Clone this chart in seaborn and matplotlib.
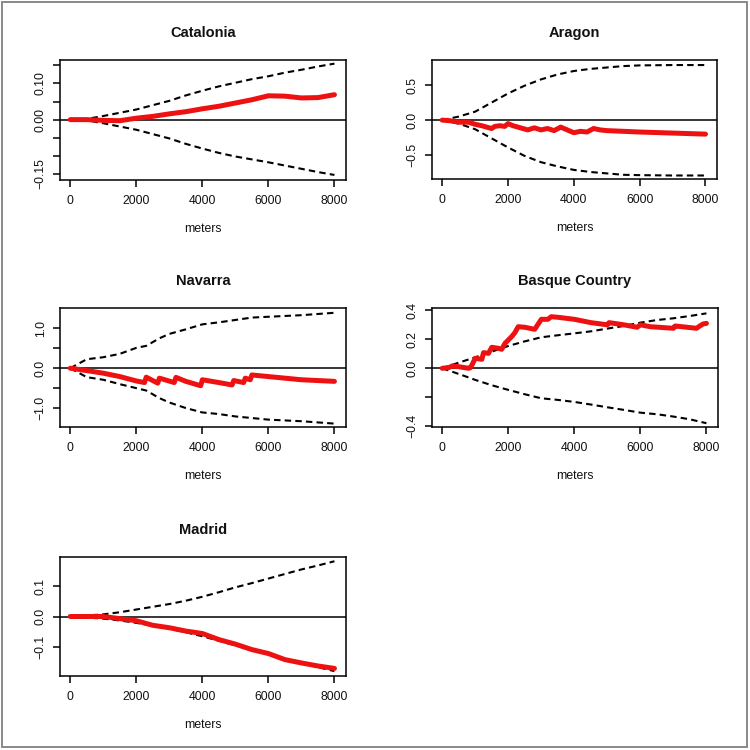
import numpy as np
import pandas as pd
import matplotlib
matplotlib.use("Agg")
import matplotlib.pyplot as plt
from matplotlib.patches import Rectangle
import seaborn as sns

# ---- data ----
# Catalonia
cat_x = [0, 500, 1000, 1500, 2000, 2500, 3000, 3500, 4000, 4500, 5000, 5500, 6000, 6500, 7000, 7500, 8000]
cat_obs = [0.0, 0.0, -0.002, -0.003, 0.004, 0.009, 0.016, 0.022, 0.03, 0.037, 0.046, 0.055, 0.066, 0.065, 0.06, 0.061, 0.069]
cat_upper = [0.0, 0.002, 0.01, 0.019, 0.028, 0.04, 0.052, 0.067, 0.08, 0.092, 0.102, 0.112, 0.12, 0.13, 0.138, 0.147, 0.155]
cat_lower = [0.0, -0.002, -0.01, -0.019, -0.028, -0.04, -0.052, -0.067, -0.08, -0.092, -0.102, -0.11, -0.118, -0.127, -0.136, -0.145, -0.153]

# Aragon
ara_env_x = [0, 500, 1000, 1500, 2000, 2500, 3000, 3500, 4000, 4500, 5000, 5500, 6000, 7000, 8000]
ara_upper = [0.0, 0.05, 0.12, 0.25, 0.38, 0.49, 0.58, 0.65, 0.70, 0.73, 0.75, 0.77, 0.78, 0.785, 0.785]
ara_lower = [0.0, -0.05, -0.13, -0.26, -0.39, -0.51, -0.60, -0.66, -0.71, -0.74, -0.76, -0.78, -0.785, -0.79, -0.79]
ara_obs_x = [0, 250, 500, 800, 1000, 1200, 1500, 1600, 1750, 1900, 2000, 2150, 2300, 2600, 2800, 3000,
             3200, 3400, 3600, 3800, 4000, 4200, 4400, 4600, 4800, 5000, 5500, 6000, 7000, 8000]
ara_obs = [0.0, -0.01, -0.03, -0.03, -0.06, -0.08, -0.12, -0.09, -0.08, -0.09, -0.05, -0.08, -0.10, -0.14, -0.11, -0.14,
           -0.12, -0.15, -0.10, -0.14, -0.18, -0.16, -0.17, -0.12, -0.14, -0.15, -0.16, -0.17, -0.185, -0.20]

# Navarra
nav_env_x = [0, 500, 1000, 1500, 2000, 2300, 2700, 3000, 3500, 4000, 4500, 5000, 5500, 6000, 7000, 8000]
nav_upper = [0.0, 0.225, 0.275, 0.36, 0.51, 0.56, 0.75, 0.86, 0.975, 1.1, 1.15, 1.21, 1.27, 1.29, 1.33, 1.39]
nav_lower = [0.0, -0.225, -0.29, -0.40, -0.50, -0.56, -0.75, -0.86, -1.0, -1.11, -1.15, -1.21, -1.25, -1.29, -1.33, -1.39]
nav_obs_x = [0, 500, 1000, 1500, 2000, 2250, 2300, 2650, 2700, 3150, 3200, 3500, 3950, 4000, 4500, 4900,
             4950, 5250, 5300, 5450, 5500, 6000, 6500, 7000, 7500, 8000]
nav_obs = [0.0, -0.06, -0.125, -0.21, -0.32, -0.36, -0.225, -0.375, -0.25, -0.36, -0.23, -0.33, -0.44, -0.29, -0.36, -0.42,
           -0.31, -0.36, -0.25, -0.29, -0.17, -0.21, -0.25, -0.29, -0.31, -0.33]

# Basque Country
bas_env_x = [0, 500, 1000, 1500, 2000, 2500, 3000, 3500, 4000, 4500, 5000, 5500, 6000, 6500, 7000, 7500, 8000]
bas_upper = [0.0, 0.039, 0.076, 0.115, 0.154, 0.186, 0.214, 0.228, 0.241, 0.255, 0.274, 0.292, 0.315, 0.333, 0.345, 0.361, 0.379]
bas_lower = [0.0, -0.039, -0.08, -0.117, -0.149, -0.179, -0.207, -0.218, -0.232, -0.25, -0.269, -0.287, -0.306, -0.317, -0.333, -0.352, -0.379]
bas_obs_x = [0, 200, 300, 500, 800, 850, 900, 1000, 1200, 1250, 1400, 1500, 1700, 1800, 1900, 2100, 2200, 2300,
             2500, 2800, 3000, 3200, 3300, 3500, 4000, 4500, 5000, 5050, 5500, 5900, 6000, 6300, 7000, 7050,
             7700, 7800, 7900, 8000]
bas_obs = [0.0, 0.005, 0.016, 0.011, 0.0, 0.004, 0.023, 0.069, 0.062, 0.108, 0.103, 0.145, 0.138, 0.131, 0.172, 0.218, 0.246, 0.287,
           0.283, 0.269, 0.338, 0.338, 0.356, 0.352, 0.338, 0.315, 0.30, 0.315, 0.30, 0.283, 0.30, 0.287, 0.276, 0.292,
           0.276, 0.292, 0.306, 0.31]

# Madrid
mad_x = [0, 1000, 1500, 2000, 2500, 3000, 3500, 4000, 4500, 5000, 5500, 6000, 6500, 7000, 7500, 8000]
mad_obs = [0.0, 0.0, -0.007, -0.014, -0.029, -0.037, -0.048, -0.056, -0.076, -0.091, -0.109, -0.122, -0.142, -0.153, -0.163, -0.171]
mad_upper = [0.0, 0.007, 0.014, 0.023, 0.032, 0.041, 0.052, 0.065, 0.08, 0.096, 0.11, 0.125, 0.14, 0.155, 0.168, 0.182]
mad_lower = [0.0, -0.007, -0.013, -0.021, -0.03, -0.04, -0.052, -0.065, -0.08, -0.095, -0.11, -0.124, -0.139, -0.153, -0.167, -0.18]

# axis ticks / labels
x_ticks = [0, 2000, 4000, 6000, 8000]
cat_yticks = [-0.15, -0.10, -0.05, 0.0, 0.05, 0.10, 0.15]
cat_ylabels = ["\u22120.15", "", "", "0.00", "", "0.10", ""]
ara_yticks = [-0.5, 0.0, 0.5]
ara_ylabels = ["\u22120.5", "0.0", "0.5"]
nav_yticks = [-1.0, -0.5, 0.0, 0.5, 1.0]
nav_ylabels = ["\u22121.0", "", "0.0", "", "1.0"]
bas_yticks = [-0.4, -0.2, 0.0, 0.2, 0.4]
bas_ylabels = ["\u22120.4", "", "0.0", "0.2", "0.4"]
mad_yticks = [-0.1, 0.0, 0.1]
mad_ylabels = ["\u22120.1", "0.0", "0.1"]

# ---- style ----
sns.set_theme(style="ticks")
plt.rcParams["font.family"] = ["Liberation Sans", "DejaVu Sans"]

W = 750.0
fig = plt.figure(figsize=(7.5, 7.5), dpi=100)
fig.patch.set_facecolor("white")


def px_axes(x0, y0, x1, y1):
    return fig.add_axes([x0 / W, 1 - y1 / W, (x1 - x0) / W, (y1 - y0) / W])


panels = [
    ("Catalonia", (60, 60, 346, 180), cat_x, cat_obs, cat_x, cat_upper, cat_lower,
     (-0.167, 0.165), cat_yticks, cat_ylabels),
    ("Aragon", (432, 60, 717, 179), ara_obs_x, ara_obs, ara_env_x, ara_upper, ara_lower,
     (-0.84, 0.857), ara_yticks, ara_ylabels),
    ("Navarra", (60, 308, 346, 427), nav_obs_x, nav_obs, nav_env_x, nav_upper, nav_lower,
     (-1.475, 1.51), nav_yticks, nav_ylabels),
    ("Basque Country", (432, 308, 718, 427), bas_obs_x, bas_obs, bas_env_x, bas_upper, bas_lower,
     (-0.405, 0.416), bas_yticks, bas_ylabels),
    ("Madrid", (60, 557, 346, 676), mad_x, mad_obs, mad_x, mad_upper, mad_lower,
     (-0.196, 0.196), mad_yticks, mad_ylabels),
]

dash = (0, (3.1, 2.0))

for name, box, ox, oy, ex, eu, el, ylim, yt, yl in panels:
    ax = px_axes(*box)
    env = pd.DataFrame({"meters": list(ex) * 2,
                        "value": list(eu) + list(el),
                        "bound": ["upper"] * len(ex) + ["lower"] * len(ex)})
    obs = pd.DataFrame({"meters": ox, "value": oy})

    ax.axhline(0, color="black", lw=1.1, zorder=1)
    for b in ["upper", "lower"]:
        sns.lineplot(data=env[env["bound"] == b], x="meters", y="value", ax=ax,
                     color="black", lw=1.5, linestyle=dash, estimator=None, sort=False,
                     zorder=2)
    sns.lineplot(data=obs, x="meters", y="value", ax=ax, color="#ee1111", lw=3.6,
                 estimator=None, sort=False, zorder=3, solid_capstyle="round",
                 solid_joinstyle="round")

    ax.set_xlim(-310, 8350)
    ax.set_ylim(*ylim)
    ax.set_xticks(x_ticks)
    ax.set_xticklabels([str(t) for t in x_ticks])
    ax.set_yticks(yt)
    ax.set_yticklabels(yl, rotation=90, va="center")
    ax.set_xlabel("")
    ax.set_ylabel("")
    ax.tick_params(axis="both", direction="out", length=5, width=1.1, color="black",
                   labelsize=8.8, labelcolor="#111111")
    ax.tick_params(axis="x", pad=6.0)
    ax.tick_params(axis="y", pad=4.5)
    for s in ax.spines.values():
        s.set_visible(True)
        s.set_linewidth(1.1)
        s.set_color("black")
    ax.set_facecolor("white")

    ax.annotate(name, xy=(0.5, 1), xycoords="axes fraction", xytext=(0, 19.4),
                textcoords="offset points", ha="center", va="center",
                fontsize=10.5, fontweight="bold", color="#111111")
    ax.annotate("meters", xy=(0.5, 0), xycoords="axes fraction", xytext=(0, -35.3),
                textcoords="offset points", ha="center", va="center",
                fontsize=8.8, color="#111111")

# outer grey frame
fig.add_artist(Rectangle((2 / W, 3 / W), 745 / W, 745 / W, fill=False,
                         edgecolor="#808080", lw=1.3, transform=fig.transFigure))

fig.savefig("out.png", dpi=100, facecolor="white")
